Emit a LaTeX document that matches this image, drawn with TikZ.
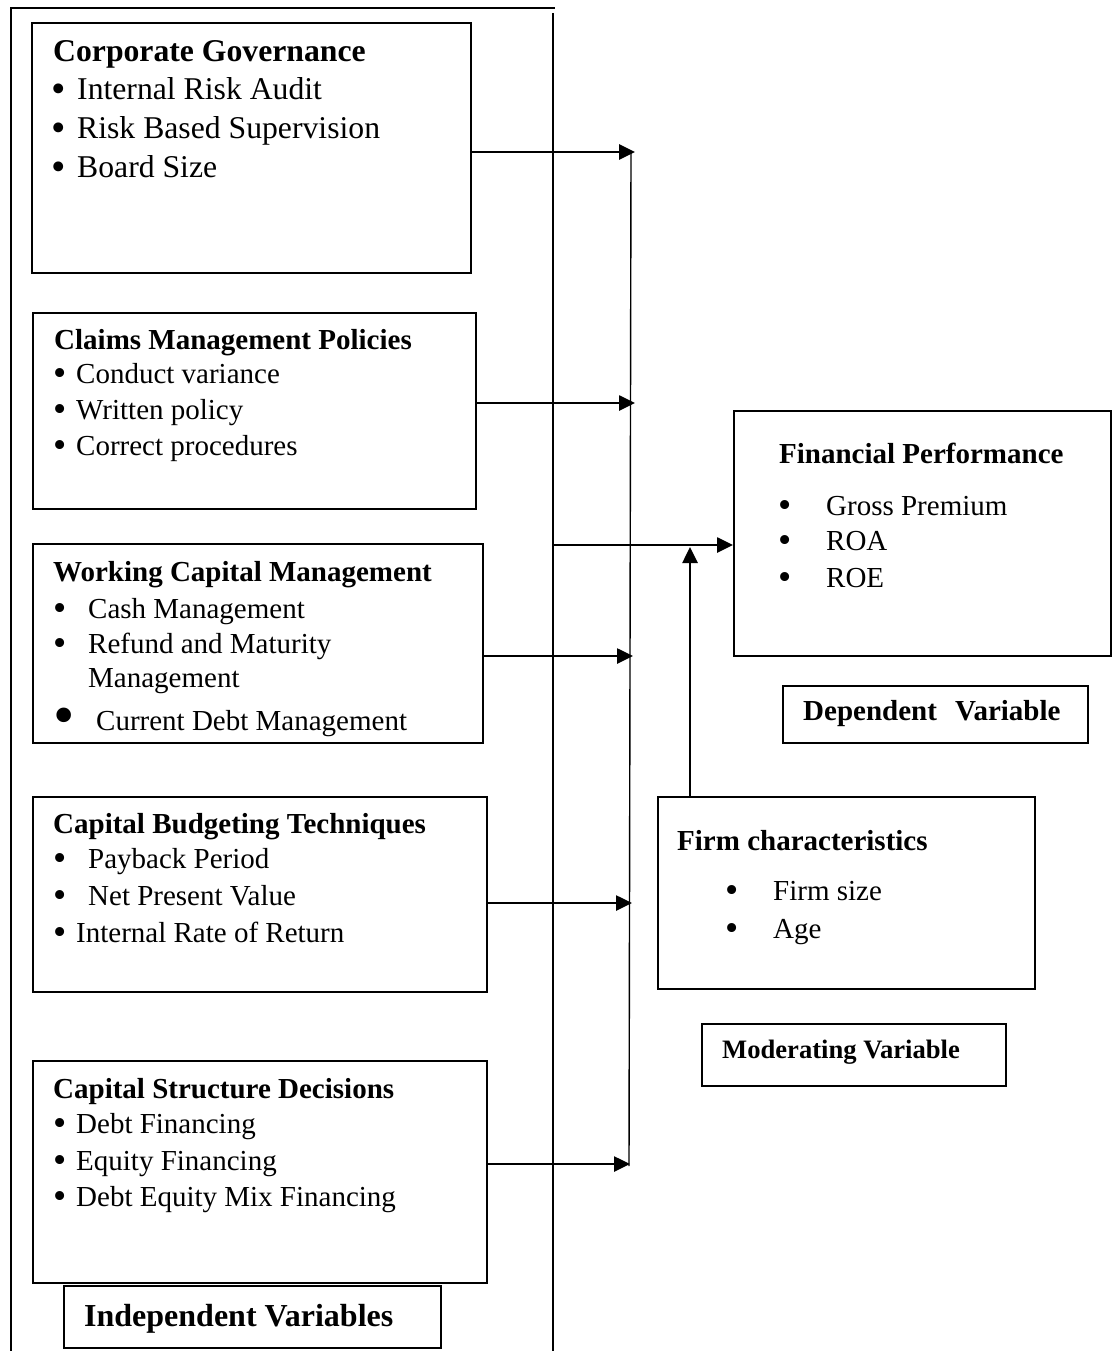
\documentclass[tikz,border=0pt]{standalone}
\usepackage{fontspec}
\setmainfont{Liberation Serif}
\usepackage{graphicx}
\usepackage{tikz}
\usetikzlibrary{arrows.meta,calc}
\newcommand{\bigtxt}{\fontsize{31.7}{38}\selectfont}
\newcommand{\midtxt}{\fontsize{29}{35}\selectfont}
\newcommand{\smalltxt}{\fontsize{26.6}{32}\selectfont}
\newcommand{\indtxt}{\fontsize{32}{38}\selectfont}
\newcommand{\bigdot}{\hspace{-0.06em}\raisebox{-0.07em}{\scalebox{1.3}{\textbullet}}}
\newcommand{\bul}[1]{\makebox[#1][l]{\bigdot}}

\begin{document}
\begin{tikzpicture}[x=1pt, y=-1pt,
	box/.style={draw, line width=1.8pt, anchor=north west, inner sep=0pt},
	txt/.style={anchor=base west, inner sep=0pt},
	arr/.style={line width=2.6pt, -{Triangle[length=16pt,width=15pt]}},
	thinline/.style={line width=1.4pt}]
	
	\useasboundingbox (0,0) rectangle (1111,1351);
	
	% frame round the independent variables
	\draw[thinline] (11,1351) -- (11,8) -- (555,8);
	\draw[thinline] (553,13) -- (553,1351);
	
	
	\node[box, minimum width=439pt, minimum height=250pt] (cg) at (31,22) {};
	\node[txt, font=\bigtxt\bfseries] (cgt) at (53,62) {Corporate Governance};
	\node[txt, font=\bigtxt] (cg1) at (53,100) {\bul{24pt}Internal Risk Audit};
	\node[txt, font=\bigtxt] (cg2) at (53,139) {\bul{24pt}Risk Based Supervision};
	\node[txt, font=\bigtxt] (cg3) at (53,178) {\bul{24pt}Board Size};
	
	
	\node[box, minimum width=443pt, minimum height=196pt] (cm) at (32,312) {};
	\node[txt, font=\midtxt\bfseries] (cmt) at (54,349) {Claims Management Policies};
	\node[txt, font=\midtxt] (cm1) at (55,383) {\bul{21pt}Conduct variance};
	\node[txt, font=\midtxt] (cm2) at (55,419) {\bul{21pt}Written policy};
	\node[txt, font=\midtxt] (cm3) at (55,455) {\bul{21pt}Correct procedures};
	
	
	\node[box, minimum width=450pt, minimum height=199pt] (wc) at (32,543) {};
	\node[txt, font=\midtxt\bfseries] (wct) at (53,581) {Working Capital Management};
	\node[txt, font=\midtxt] (wc1) at (55,618) {\bul{33pt}Cash Management};
	\node[txt, font=\midtxt] (wc2) at (55,653) {\bul{33pt}Refund and Maturity};
	\node[txt, font=\midtxt] (wc3) at (88,687) {Management};
	\node[txt, font=\midtxt] (wc4) at (53,730) {\makebox[43pt][l]{\raisebox{-0.2em}{\scalebox{2.1}{\textbullet}}}Current Debt Management};
	
	
	\node[box, minimum width=454pt, minimum height=195pt] (cb) at (32,796) {};
	\node[txt, font=\midtxt\bfseries] (cbt) at (53,833) {Capital Budgeting Techniques};
	\node[txt, font=\midtxt] (cb1) at (55,868) {\bul{33pt}Payback Period};
	\node[txt, font=\midtxt] (cb2) at (55,905) {\bul{33pt}Net Present Value};
	\node[txt, font=\midtxt] (cb3) at (55,942) {\bul{21pt}Internal Rate of Return};
	
	
	\node[box, minimum width=454pt, minimum height=222pt] (cs) at (32,1060) {};
	\node[txt, font=\midtxt\bfseries] (cst) at (53,1098) {Capital Structure Decisions};
	\node[txt, font=\midtxt] (cs1) at (55,1133) {\bul{21pt}Debt Financing};
	\node[txt, font=\midtxt] (cs2) at (55,1170) {\bul{21pt}Equity Financing};
	\node[txt, font=\midtxt] (cs3) at (55,1206) {\bul{21pt}Debt Equity Mix Financing};
	
	
	\node[box, minimum width=377pt, minimum height=62pt] (iv) at (63,1285) {};
	\node[txt, font=\indtxt\bfseries] (ivt) at (84,1326) {Independent Variables};
	
	% dependent variable
	\node[box, minimum width=377pt, minimum height=245pt] (fp) at (733,410) {};
	\node[txt, font=\midtxt\bfseries] (fpt) at (779,463) {Financial Performance};
	\node[txt, font=\midtxt] (fp1) at (780,515) {\bul{46pt}Gross Premium};
	\node[txt, font=\midtxt] (fp2) at (780,550) {\bul{46pt}ROA};
	\node[txt, font=\midtxt] (fp3) at (780,587) {\bul{46pt}ROE};
	
	\node[box, minimum width=305pt, minimum height=57pt] (dv) at (782,685) {};
	\node[txt, font=\midtxt\bfseries] (dvt) at (803,720) {Dependent\hspace{0.63em}Variable};
	
	% moderating variable
	\node[box, minimum width=377pt, minimum height=192pt] (fc) at (657,796) {};
	\node[txt, font=\midtxt\bfseries] (fct) at (677,850) {Firm characteristics};
	\node[txt, font=\midtxt] (fc1) at (727,900) {\bul{46pt}Firm size};
	\node[txt, font=\midtxt] (fc2) at (727,938) {\bul{46pt}Age};
	
	\node[box, minimum width=304pt, minimum height=62pt] (mv) at (701,1023) {};
	\node[txt, font=\smalltxt\bfseries] (mvt) at (722,1058) {Moderating Variable};
	
	% arrows
	\coordinate (bustop) at (631,152);
	\coordinate (busbot) at (629,1166);
	\coordinate (bus1) at (635,152);
	\coordinate (bus2) at (635,403);
	\coordinate (bus3) at (633,656);
	\coordinate (bus4) at (632,903);
	\coordinate (bus5) at (630,1164);
	\coordinate (join) at (553,545);
	\coordinate (modin) at (690,547);
	
	\draw[thinline] (bustop) -- (busbot);
	\draw[arr] (cg.east |- bus1) -- (bus1);
	\draw[arr] (cm.east |- bus2) -- (bus2);
	\draw[arr] (wc.east |- bus3) -- (bus3);
	\draw[arr] (cb.east |- bus4) -- (bus4);
	\draw[arr] (cs.east |- bus5) -- (bus5);
	
	\draw[arr] (join) -- (join -| fp.west);
	\draw[arr] (fc.north -| modin) -- (modin);
	
\end{tikzpicture}
\end{document}
